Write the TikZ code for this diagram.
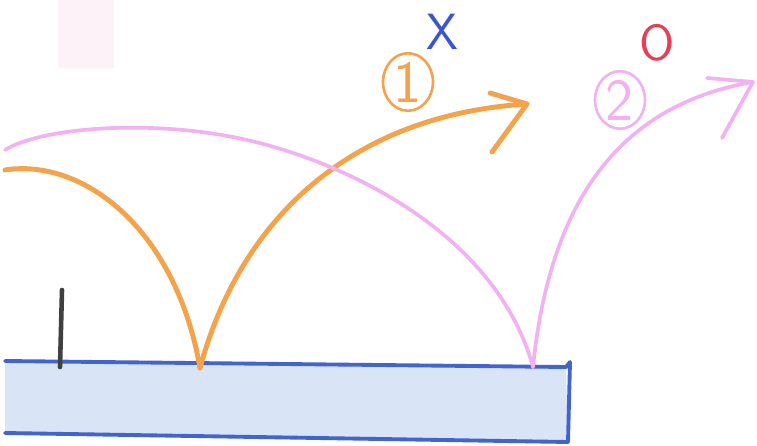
\documentclass[tikz,border=0pt]{standalone}
\usepackage{tikz}
\usetikzlibrary{calc,positioning,shapes.geometric}
\definecolor{poolblue}{RGB}{66,100,205}
\definecolor{poolfill}{RGB}{218,228,247}
\definecolor{hoporange}{RGB}{245,163,74}
\definecolor{hoppink}{RGB}{242,178,242}
\definecolor{smudge}{RGB}{253,242,248}
\definecolor{crossblue}{RGB}{60,84,205}
\definecolor{ringred}{RGB}{232,62,84}
\tikzset{
  poolline/.style = {draw=poolblue, line width=2.2pt, line cap=round, line join=round},
  hopone/.style   = {draw=hoporange, line width=2.8pt, line cap=round, line join=round},
  hoptwo/.style   = {draw=hoppink, line width=2.1pt, line cap=round, line join=round},
  numlab/.style   = {ellipse, line width=1.5pt, minimum width=1.0cm, minimum height=1.15cm,
                     inner sep=0pt, font=\sffamily\fontsize{34}{34}\selectfont},
  marklab/.style  = {inner sep=0pt, font=\sffamily\fontsize{29}{29}\selectfont},
}

\begin{document}
\begin{tikzpicture}[x=0.02cm, y=-0.02cm]
\useasboundingbox (0,0) rectangle (757,446);
\fill[white] (0,0) rectangle (757,446);
% faint smudge top left
\fill[smudge] (58,0) rectangle (114,68);

% pool
\coordinate (ptl) at (5,361);
\coordinate (ptr) at (566,367);
\coordinate (phk) at (570,362);
\coordinate (pbr) at (568,442);
\coordinate (pbl) at (5,433);
\fill[poolfill] (ptl) -- (ptr) -- (pbr) -- (pbl) -- cycle;
\draw[poolline] (ptl) -- (ptr) -- (phk) -- (pbr);
\draw[poolline] (pbl) -- (pbr);

% post
\coordinate (postt) at (62,290);
\coordinate (postb) at (60,367);
\draw[black!75, line width=2.6pt, line cap=round] (postt) -- (postb);

% orange hop
\coordinate (ostart) at (5,170);
\coordinate (obounce) at (200,368);
\coordinate (otip) at (527,104);
\coordinate (oup) at (490,93);
\coordinate (olow) at (492,152);
\draw[hopone] (ostart) .. controls (80,158) and (175,225) .. (obounce);
\draw[hopone] (obounce) .. controls (240,220) and (350,115) .. (otip);
\draw[hopone] (oup) -- (otip) -- (olow);

% pink hop
\coordinate (pstart) at (5,150);
\coordinate (pmid) at (247,140);
\coordinate (pbounce) at (533,367);
\coordinate (ptip) at (753,82);
\coordinate (pup) at (707,78);
\coordinate (plow) at (722,138);
\draw[hoptwo] (pstart) .. controls (40,128) and (150,118) .. (pmid)
  .. controls (340,161) and (495,230) .. (pbounce);
\draw[hoptwo] (pbounce) .. controls (550,200) and (620,105) .. (ptip);
\draw[hoptwo] (pup) -- (ptip) -- (plow);

% labels
\node[numlab, draw=hoporange, text=hoporange] (one) at (408,82) {1};
\node[numlab, draw=hoppink, text=hoppink] (two) at (620,100) {2};
\node[marklab, text=crossblue] (cross) at (442,32) {X};
\node[marklab, text=ringred] (ring) at (657,43) {O};
\end{tikzpicture}
\end{document}
